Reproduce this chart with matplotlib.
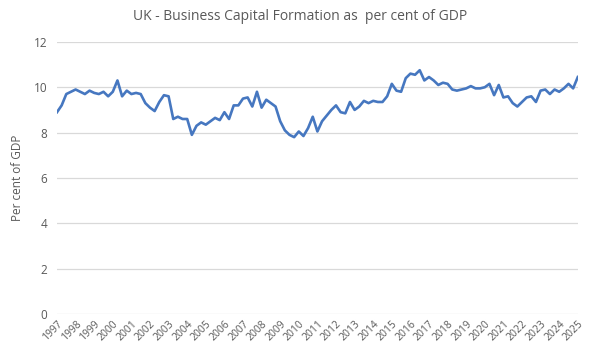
import matplotlib.pyplot as plt
import numpy as np

years = list(range(1997, 2026))

# quarterly values, 1997Q1 .. 2025Q1
capital_formation = [
    8.9, 9.2, 9.7, 9.8,
    9.9, 9.8, 9.7, 9.85,
    9.75, 9.7, 9.8, 9.6,
    9.8, 10.3, 9.6, 9.85,
    9.7, 9.75, 9.7, 9.3,
    9.1, 8.95, 9.35, 9.65,
    9.6, 8.6, 8.7, 8.6,
    8.6, 7.9, 8.3, 8.45,
    8.35, 8.5, 8.65, 8.55,
    8.9, 8.6, 9.2, 9.2,
    9.5, 9.55, 9.15, 9.8,
    9.1, 9.45, 9.3, 9.15,
    8.5, 8.1, 7.9, 7.8,
    8.05, 7.85, 8.2, 8.7,
    8.05, 8.5, 8.75, 9.0,
    9.2, 8.9, 8.85, 9.35,
    9.0, 9.15, 9.4, 9.3,
    9.4, 9.35, 9.35, 9.6,
    10.15, 9.85, 9.8, 10.4,
    10.6, 10.55, 10.75, 10.3,
    10.45, 10.3, 10.1, 10.2,
    10.15, 9.9, 9.85, 9.9,
    9.95, 10.05, 9.95, 9.95,
    10.0, 10.15, 9.65, 10.1,
    9.55, 9.6, 9.3, 9.15,
    9.35, 9.55, 9.6, 9.35,
    9.85, 9.9, 9.7, 9.9,
    9.8, 9.95, 10.15, 9.95,
    10.45,
]

text_color = "#595959"
plt.rcParams["font.family"] = ["Open Sans", "DejaVu Sans"]

fig = plt.figure(figsize=(6.0, 3.61), dpi=100)
ax = fig.add_axes([0.095, 0.130, 0.868, 0.754])

x = np.arange(len(capital_formation))
ax.plot(x, capital_formation, color="#4677C0", linewidth=1.9, solid_joinstyle="round")

ax.set_xlim(0, len(capital_formation) - 1)
ax.set_ylim(0, 12)
ax.set_yticks(range(0, 13, 2))
ax.set_xticks(np.arange(0, len(capital_formation), 4))
ax.set_xticklabels([str(y) for y in years], rotation=45, ha="right",
                   rotation_mode="anchor", fontsize=7.5, color=text_color)
ax.tick_params(axis="y", labelsize=8.5, labelcolor=text_color, length=0, pad=7)
ax.tick_params(axis="x", length=0, pad=3)

ax.grid(axis="y", color="#d9d9d9", linewidth=0.9)
ax.set_axisbelow(True)
for s in ax.spines.values():
    s.set_visible(False)

ax.set_ylabel("Per cent of GDP", fontsize=8.5, color=text_color, labelpad=7)
fig.suptitle("UK - Business Capital Formation as  per cent of GDP",
             fontsize=10, color=text_color, y=0.975)

fig.savefig("out.png", dpi=100)
